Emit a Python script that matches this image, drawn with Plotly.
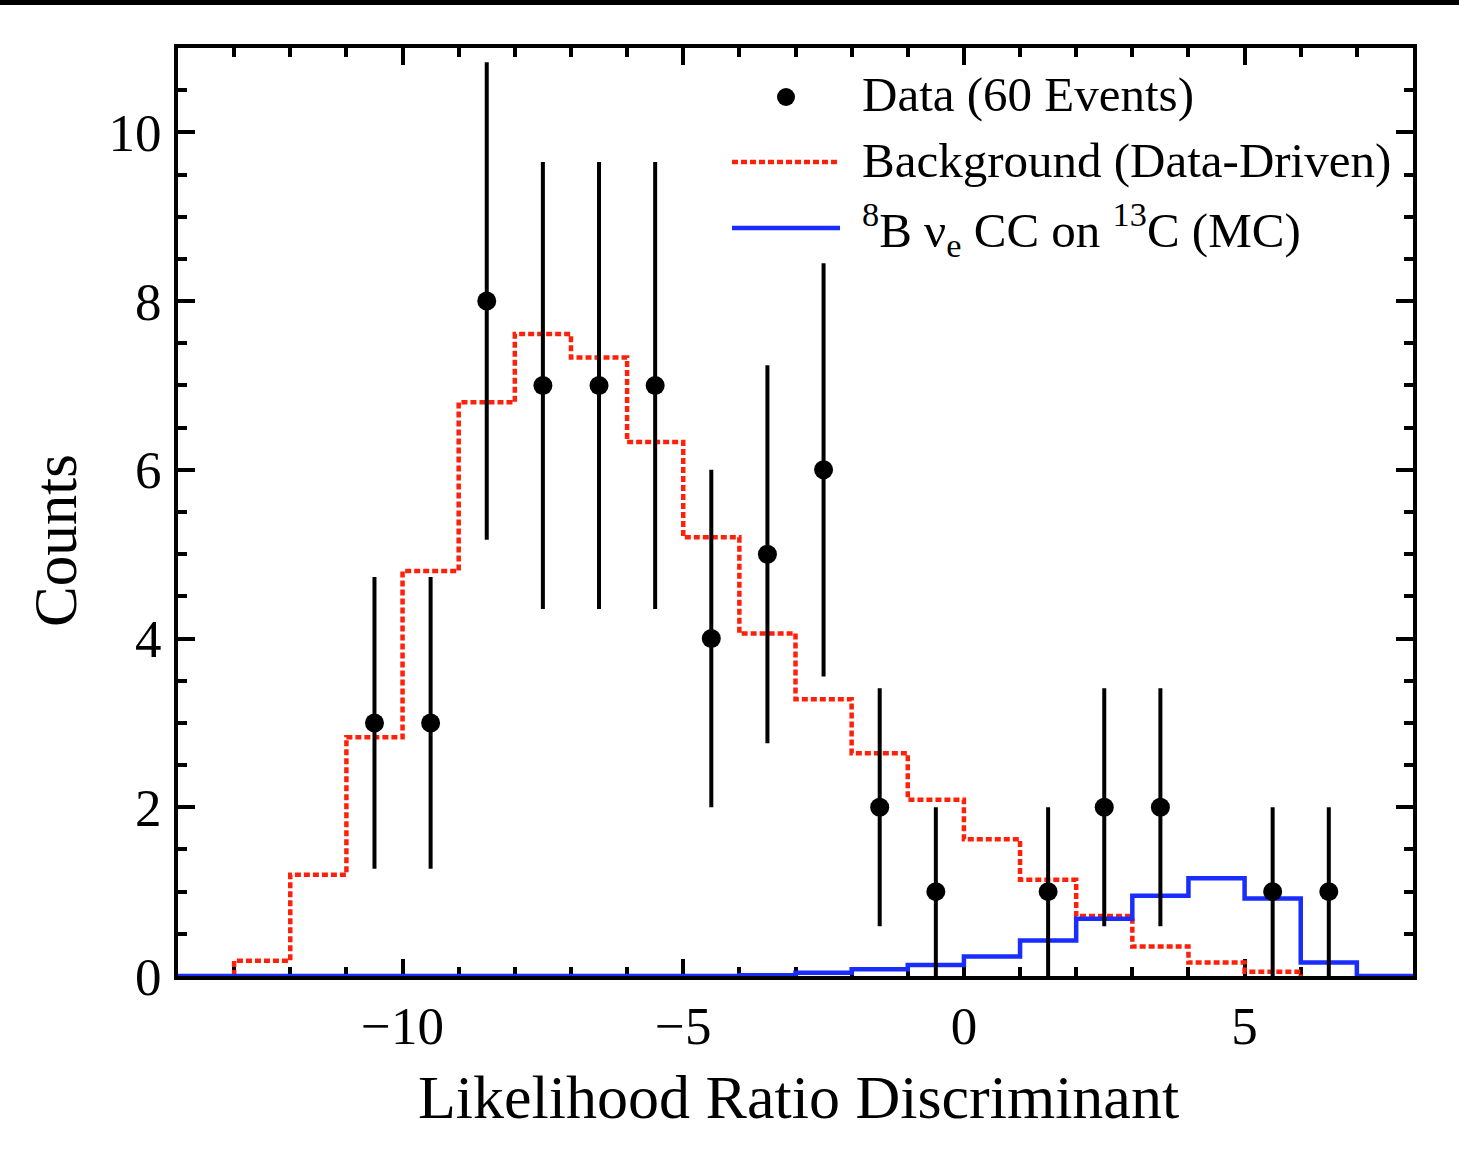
import plotly.graph_objects as go

# ---------------- data ----------------
# data points (bin centres, counts, sqrt(N) errors)
data_x = [-10.5, -9.5, -8.5, -7.5, -6.5, -5.5, -4.5, -3.5, -2.5, -1.5, -0.5, 1.5, 2.5, 3.5, 5.5, 6.5]
data_y = [3, 3, 8, 7, 7, 7, 4, 5, 6, 2, 1, 1, 2, 2, 1, 1]
data_err = [1.73, 1.73, 2.83, 2.65, 2.65, 2.65, 2.0, 2.24, 2.45, 1.41, 1.0, 1.0, 1.41, 1.41, 1.0, 1.0]

# background histogram (data-driven), bin left edges and heights
bkg_edges = [-13, -12, -11, -10, -9, -8, -7, -6, -5, -4, -3, -2, -1, 0, 1, 2, 3, 4, 5, 6]
bkg_vals = [0.18, 1.2, 2.83, 4.8, 6.8, 7.61, 7.33, 6.33, 5.2, 4.06, 3.28, 2.64, 2.09, 1.62, 1.14, 0.71, 0.35, 0.16, 0.05]

# 8B nu_e CC on 13C (MC) histogram
sig_edges = [-14, -13, -12, -11, -10, -9, -8, -7, -6, -5, -4, -3, -2, -1, 0, 1, 2, 3, 4, 5, 6, 7, 8]
sig_vals = [0, 0, 0, 0, 0, 0, 0, 0, 0, 0, 0.01, 0.04, 0.08, 0.13, 0.23, 0.42, 0.68, 0.95, 1.16, 0.92, 0.16, 0]

x_ticks = [-10, -5, 0, 5]
y_ticks = [0, 2, 4, 6, 8, 10]

RED = "rgb(255,32,10)"
BLUE = "rgb(25,45,255)"
FONT = "Liberation Serif"

# ---------------- figure ----------------
W, H = 1459, 1154
L, R, T, B = 178, 1413, 48, 976  # plot area in pixels


def px(xp):
    return (xp - L) / (R - L)


def py(yp):
    return (B - yp) / (B - T)


fig = go.Figure()

# background step line: start at 0, go through each bin, drop back to 0
fig.add_trace(go.Scatter(
    x=[bkg_edges[0]] + bkg_edges,
    y=[0] + bkg_vals + [0],
    mode="lines", line=dict(color=RED, width=4.5, dash="6px,3px", shape="hv"),
    showlegend=False, cliponaxis=False, hoverinfo="skip"))

fig.add_trace(go.Scatter(
    x=sig_edges,
    y=sig_vals + [0],
    mode="lines", line=dict(color=BLUE, width=4.5, shape="hv"),
    showlegend=False, cliponaxis=False, hoverinfo="skip"))

fig.add_trace(go.Scatter(
    x=data_x, y=data_y, mode="markers",
    marker=dict(color="black", size=19, symbol="circle"),
    error_y=dict(type="data", array=data_err, color="black", thickness=4, width=0),
    showlegend=False, cliponaxis=False))

axis_common = dict(
    showline=True, linecolor="black", linewidth=4, mirror="allticks",
    ticks="inside", ticklen=17, tickwidth=3.5, tickcolor="black",
    showgrid=False, zeroline=False,
    tickfont=dict(family=FONT, size=53, color="black"),
    layer="below traces",
)

fig.update_xaxes(range=[-14, 8], tickvals=x_ticks, ticktext=["\u221210", "\u22125", "0", "5"],
                 minor=dict(dtick=1, tick0=0, ticks="inside", ticklen=9, tickwidth=3.5, tickcolor="black"),
                 ticklabelstandoff=0,
                 **axis_common)
fig.update_yaxes(range=[0, 11], tickvals=y_ticks,
                 minor=dict(dtick=0.5, tick0=0, ticks="inside", ticklen=9, tickwidth=3.5, tickcolor="black"),
                 ticklabelstandoff=2,
                 **axis_common)

shapes = []
# black band at the very top of the page
shapes.append(dict(type="rect", xref="paper", yref="paper",
                   x0=px(0), x1=px(W), y0=py(5), y1=py(0),
                   fillcolor="black", line=dict(width=0), layer="above"))

# legend samples
shapes.append(dict(type="circle", xref="paper", yref="paper",
                   xsizemode="pixel", ysizemode="pixel",
                   xanchor=px(786), yanchor=py(97),
                   x0=-9, x1=9, y0=-9, y1=9,
                   fillcolor="black", line=dict(width=0)))
shapes.append(dict(type="line", xref="paper", yref="paper",
                   x0=px(732), x1=px(840), y0=py(162), y1=py(162),
                   line=dict(color=RED, width=4.5, dash="6px,3px")))
shapes.append(dict(type="line", xref="paper", yref="paper",
                   x0=px(732), x1=px(840), y0=py(228), y1=py(228),
                   line=dict(color=BLUE, width=4.5)))

annotations = []
leg_font = dict(family=FONT, size=49, color="black")
annotations.append(dict(text="Data (60 Events)", xref="paper", yref="paper",
                        x=px(860), y=py(95), xanchor="left", yanchor="middle",
                        showarrow=False, font=leg_font))
annotations.append(dict(text="Background (Data-Driven)", xref="paper", yref="paper",
                        x=px(860), y=py(160), xanchor="left", yanchor="middle",
                        showarrow=False, font=leg_font))
annotations.append(dict(text="<sup>8</sup>B \u03bd<sub>e</sub> CC on <sup>13</sup>C (MC)",
                        xref="paper", yref="paper",
                        x=px(860), y=py(230), xanchor="left", yanchor="middle",
                        showarrow=False, font=leg_font))
# axis titles
annotations.append(dict(text="Likelihood Ratio Discriminant", xref="paper", yref="paper",
                        x=px(798), y=py(1097), xanchor="center", yanchor="middle",
                        showarrow=False, font=dict(family=FONT, size=62, color="black")))
annotations.append(dict(text="Counts", xref="paper", yref="paper",
                        x=px(55), y=py(541), xanchor="center", yanchor="middle",
                        textangle=-90, showarrow=False,
                        font=dict(family=FONT, size=61, color="black")))

fig.update_layout(
    width=W, height=H,
    margin=dict(l=L, r=W - R, t=T, b=H - B),
    paper_bgcolor="white", plot_bgcolor="white",
    shapes=shapes, annotations=annotations,
    showlegend=False,
    font=dict(family=FONT, color="black"),
)

fig.write_html("out.html")
